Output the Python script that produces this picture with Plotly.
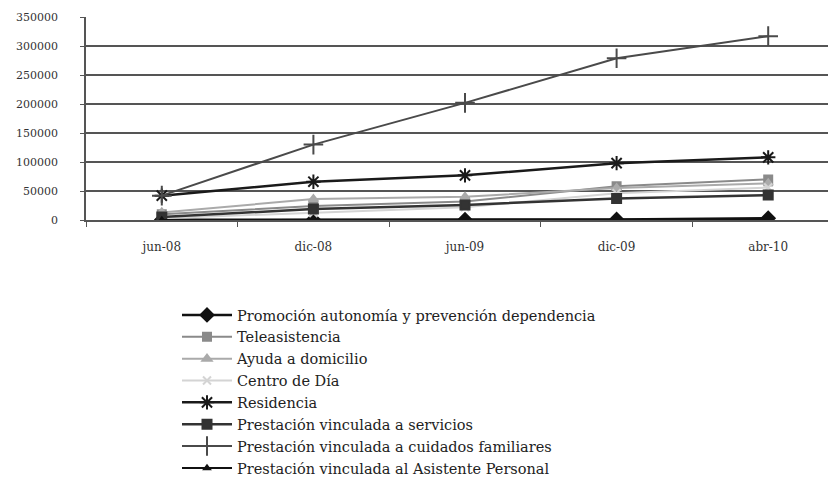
import plotly.graph_objects as go

categories = ["jun-08", "dic-08", "jun-09", "dic-09", "abr-10"]
promocion = [500, 500, 500, 1000, 3000]
teleasistencia = [10000, 24000, 32000, 58000, 70000]
ayuda = [13000, 36000, 40000, 55000, 63000]
centro_dia = [3000, 12000, 22000, 46000, 56000]
residencia = [42000, 66000, 77000, 98000, 108000]
servicios = [5000, 19000, 26000, 37000, 43000]
cuidados = [42000, 130000, 202000, 279000, 317000]
asistente = [0, 200, 300, 600, 700]
y_ticks = [0, 50000, 100000, 150000, 200000, 250000, 300000, 350000]

series = [
    ("Promoción autonomía y prevención dependencia", promocion, "#111111", 2.5, "diamond", 10),
    ("Teleasistencia", teleasistencia, "#8a8a8a", 2, "square", 8),
    ("Ayuda a domicilio", ayuda, "#aaaaaa", 2, "triangle-up", 8),
    ("Centro de Día", centro_dia, "#d4d4d4", 2, "x-thin-open", 8),
    ("Residencia", residencia, "#1a1a1a", 2.5, "asterisk-open", 12),
    ("Prestación vinculada a servicios", servicios, "#333333", 2.5, "square", 9),
    ("Prestación vinculada a cuidados familiares", cuidados, "#4a4a4a", 2, "cross-thin-open", 14),
    ("Prestación vinculada al Asistente Personal", asistente, "#111111", 2, "triangle-up", 5),
]

fig = go.Figure()
for name, vals, color, w, sym, size in series:
    fig.add_trace(go.Scatter(
        x=categories, y=vals, name=name, mode="lines+markers",
        line=dict(color=color, width=w),
        marker=dict(symbol=sym, size=size, color=color,
                    line=dict(color=color, width=2)),
    ))

fig.update_layout(
    width=836, height=480,
    margin=dict(l=78, r=0, t=9, b=268),
    paper_bgcolor="white", plot_bgcolor="white",
    font=dict(family="DejaVu Serif", color="#333333"),
    showlegend=True,
    legend=dict(
        x=(169 - 78) / 758, y=(220 - 484) / 203, xanchor="left", yanchor="bottom",
        font=dict(family="DejaVu Serif", size=14.5, color="#222222"),
        tracegroupgap=0, itemwidth=50, traceorder="normal",
        bgcolor="rgba(0,0,0,0)",
    ),
    xaxis=dict(
        type="category", range=[-0.5, 4.5], automargin=False,
        showline=True, linecolor="#555555", linewidth=1.5,
        ticks="outside", tickson="boundaries", ticklen=5, tickcolor="#555555",
        showgrid=False, ticklabelstandoff=15,
        tickfont=dict(family="DejaVu Serif", size=12, color="#333333"),
    ),
    yaxis=dict(
        range=[0, 350000], tickvals=y_ticks, automargin=False,
        ticktext=[str(v) for v in y_ticks],
        showline=True, linecolor="#555555", linewidth=1.5,
        ticks="outside", ticklen=4, tickcolor="#555555",
        showgrid=True, gridcolor="#555555", gridwidth=1.5,
        zeroline=False, ticklabelstandoff=20,
        tickfont=dict(family="DejaVu Serif", size=11, color="#333333"),
    ),
)

fig.write_html("out.html")
